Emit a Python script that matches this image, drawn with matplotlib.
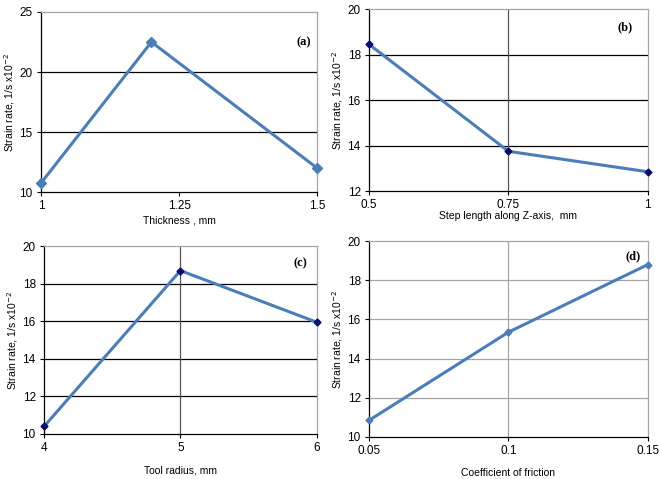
import matplotlib
matplotlib.use("Agg")
import matplotlib.pyplot as plt

plt.rcParams['font.family'] = ['Liberation Sans', 'DejaVu Sans']

# Data
thick_x = [1.0, 1.2, 1.5]
thick_y = [10.75, 22.5, 12.0]
step_x = [0.5, 0.75, 1.0]
step_y = [18.45, 13.75, 12.85]
radius_x = [4, 5, 6]
radius_y = [10.4, 18.7, 15.95]
fric_x = [0.05, 0.1, 0.15]
fric_y = [10.85, 15.35, 18.8]

line_col = '#4A7EBB'
navy = '#0A0A6E'
ylabel = 'Strain rate, 1/s x10$^{-2}$'

fig = plt.figure(figsize=(6.59, 4.79), dpi=100)

panels = [
    dict(rect=[0.0622, 0.599, 0.419, 0.376], x=thick_x, y=thick_y,
         xlim=(1, 1.5), xt=[1, 1.25, 1.5], xtl=['1', '1.25', '1.5'],
         ylim=(10, 25), yt=[10, 15, 20, 25], xlabel='Thickness , mm',
         tag='(a)', tagpos=(0.95, 0.83), mcol=line_col, ms=5, grid='k', vgrid=None,
         xlabel_pad=2),
    dict(rect=[0.560, 0.601, 0.423, 0.380], x=step_x, y=step_y,
         xlim=(0.5, 1.0), xt=[0.5, 0.75, 1.0], xtl=['0.5', '0.75', '1'],
         ylim=(12, 20), yt=[12, 14, 16, 18, 20], xlabel='Step length along Z-axis,  mm',
         tag='(b)', tagpos=(0.92, 0.90), mcol=navy, ms=3.5, grid='k', vgrid=0.75,
         xlabel_pad=0),
    dict(rect=[0.0668, 0.094, 0.414, 0.392], x=radius_x, y=radius_y,
         xlim=(4, 6), xt=[4, 5, 6], xtl=['4', '5', '6'],
         ylim=(10, 20), yt=[10, 12, 14, 16, 18, 20], xlabel='Tool radius, mm',
         tag='(c)', tagpos=(0.94, 0.91), mcol=navy, ms=3.5, grid='k', vgrid=5,
         xlabel_pad=8),
    dict(rect=[0.560, 0.0877, 0.423, 0.409], x=fric_x, y=fric_y,
         xlim=(0.05, 0.15), xt=[0.05, 0.1, 0.15], xtl=['0.05', '0.1', '0.15'],
         ylim=(10, 20), yt=[10, 12, 14, 16, 18, 20], xlabel='Coefficient of friction',
         tag='(d)', tagpos=(0.946, 0.92), mcol=line_col, ms=3.5, grid='#A6A6A6', vgrid=0.1,
         xlabel_pad=8),
]

for p in panels:
    ax = fig.add_axes(p['rect'])
    ax.set_xlim(*p['xlim'])
    ax.set_ylim(*p['ylim'])
    ax.set_xticks(p['xt'])
    ax.set_xticklabels(p['xtl'])
    ax.set_yticks(p['yt'])
    for yv in p['yt'][1:-1]:
        ax.axhline(yv, color=p['grid'], lw=0.9, zorder=1)
    if p['vgrid'] is not None:
        ax.axvline(p['vgrid'], color='#555555' if p['grid'] == 'k' else p['grid'], lw=0.9, zorder=1)
    ax.plot(p['x'], p['y'], color=line_col, lw=2.2, marker='D', ms=p['ms'],
            mfc=p['mcol'], mec=p['mcol'], zorder=3, clip_on=False)
    for s in ['top', 'right']:
        ax.spines[s].set_color('#A6A6A6')
        ax.spines[s].set_linewidth(0.9)
    for s in ['left', 'bottom']:
        ax.spines[s].set_color('black')
        ax.spines[s].set_linewidth(0.9)
    ax.tick_params(axis='both', direction='out', length=3, width=0.8,
                   labelsize=8.5, pad=3, colors='black')
    ax.set_xlabel(p['xlabel'], fontsize=7.5, labelpad=p['xlabel_pad'])
    ax.set_ylabel(ylabel, fontsize=7.5, labelpad=2)
    ax.text(p['tagpos'][0], p['tagpos'][1], p['tag'], transform=ax.transAxes,
            fontsize=9, fontweight='bold', family='Liberation Serif',
            ha='center', va='center')

fig.savefig('out.png', dpi=100)
